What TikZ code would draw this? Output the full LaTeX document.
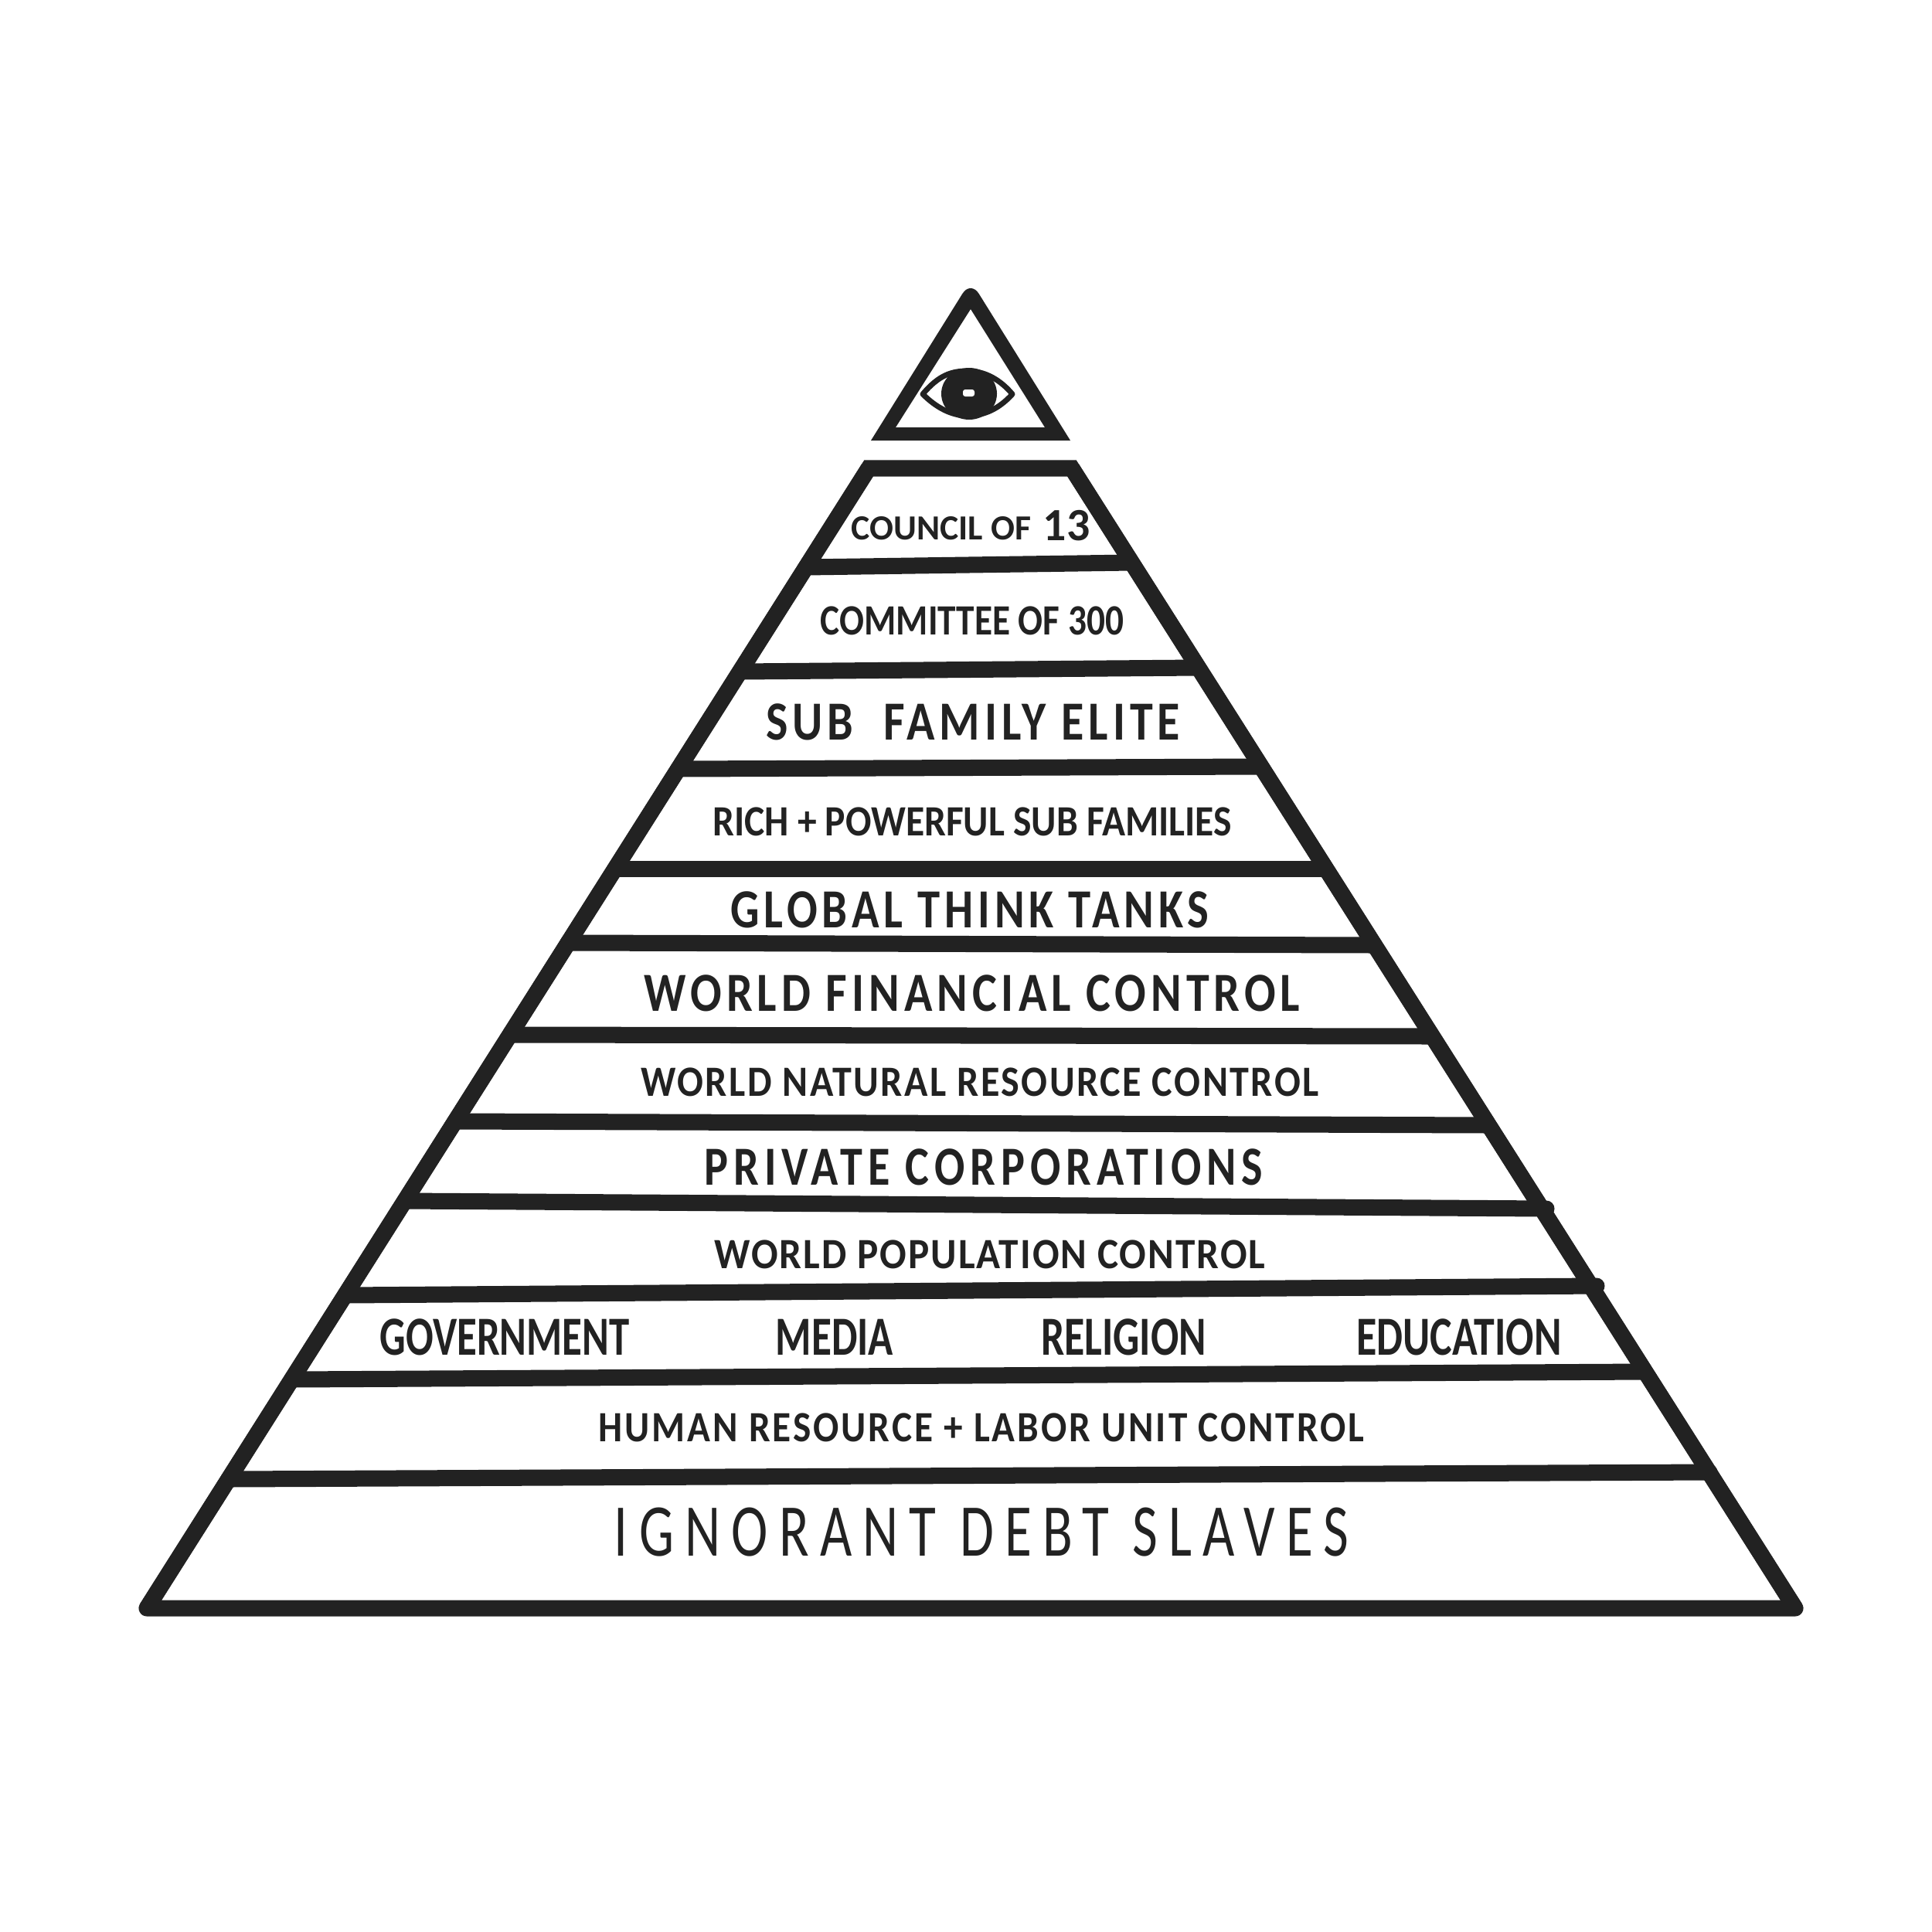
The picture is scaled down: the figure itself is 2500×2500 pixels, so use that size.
\documentclass[tikz,border=0pt]{standalone}
\usepackage{fontspec}
\setmainfont{Carlito}
\definecolor{ink}{HTML}{222222}
\newcommand{\handtext}[3]{\scalebox{#1}[1]{\addfontfeature{LetterSpace=#2}#3}}
\tikzset{
	x=0.01cm, y=-0.01cm,
	wall/.style={ink, line width=0.21cm},
	band/.style={ink, line width=0.21cm, line cap=round},
	tiny label/.style={ink, inner sep=0pt, font=\bfseries\fontsize{13}{14}\selectfont},
	small label/.style={ink, inner sep=0pt, font=\bfseries\fontsize{15.9}{16}\selectfont},
	mid label/.style={ink, inner sep=0pt, font=\bfseries\fontsize{20.3}{21}\selectfont},
	big label/.style={ink, inner sep=0pt, font=\fontsize{27.4}{28}\selectfont},
}

\begin{document}
\begin{tikzpicture}
	\useasboundingbox (0,0) rectangle (2500,2500);

	\coordinate (tl) at (1124,606);
	\coordinate (tr) at (1387,606);
	\coordinate (bl) at (190,2081);
	\coordinate (br) at (2323,2081);

	% capstone with the eye
	\fill [ink, even odd rule] (1127,570) [rounded corners=0.2cm] -- (1256,363) [sharp corners] -- (1385,570) -- cycle
		(1159,553) -- (1256,400) -- (1352,553) -- cycle;
	\draw [ink, line width=0.07cm, line join=round, fill=white]
		(1194,510) .. controls (1215,485) and (1232,480) .. (1252,480)
		.. controls (1275,480) and (1295,492) .. (1310,510)
		.. controls (1292,530) and (1272,538) .. (1252,538)
		.. controls (1232,538) and (1212,528) .. cycle;
	\fill [ink] (1254,509.5) ellipse (36 and 33.5);
	\fill [white, rounded corners=0.03cm] (1246,504) rectangle (1261,513);

	% body of the pyramid
	\draw [wall, line join=miter] (bl) -- (tl) -- (tr) -- (br);
	\draw [wall, line join=round] (tl) -- (bl) -- (br) -- (tr);

	% floors
	\foreach \xl/\yl/\xr/\yr in {1043/734/1464/728, 958/869/1550/864, 878/995/1631/992,
		796/1124/1715/1124, 735/1220/1778/1223, 660/1339/1853/1341, 589/1451/1926/1456,
		524/1554/2001/1564, 447/1676/2066/1664, 378/1785/2128/1775, 296/1914/2212/1905}
		\draw [band] (\xl,\yl) -- (\xr,\yr);

	\node [tiny label] (council) at (1218,684) {COUNCIL OF};
	\node [tiny label, anchor=west] (thirteen) at (1349,680) {\fontsize{17}{18}\selectfont 13};
	\node [small label] (committee) at (1258,803) {\handtext{0.845}{0}{COMMITTEE OF 300}};
	\node [mid label] (elite) at (1259,934) {\handtext{0.841}{10}{SUB\ \ FAMILY ELITE}};
	\node [small label] (rich) at (1258,1063) {\handtext{0.886}{0}{RICH + POWERFUL SUB FAMILIES}};
	\node [mid label] (tanks) at (1255,1177) {\handtext{0.823}{10}{GLOBAL THINK TANKS}};
	\node [mid label] (financial) at (1258,1285) {\handtext{0.842}{10}{WORLD FINANCIAL CONTROL}};
	\node [small label] (natural) at (1268,1400) {\handtext{0.896}{5}{WORLD NATURAL RESOURCE CONTROL}};
	\node [mid label] (private) at (1273,1510) {\handtext{0.815}{12}{PRIVATE CORPORATIONS}};
	\node [small label] (population) at (1281,1623) {\handtext{0.916}{4}{WORLD POPULATION CONTROL}};
	\node [mid label] (government) at (653,1730) {\handtext{0.74}{0}{GOVERNMENT}};
	\node [mid label] (media) at (1080,1730) {\handtext{0.744}{0}{MEDIA}};
	\node [mid label] (religion) at (1454,1730) {\handtext{0.753}{0}{RELIGION}};
	\node [mid label] (education) at (1888,1730) {\handtext{0.755}{0}{EDUCATION}};
	\node [small label] (human) at (1270,1847) {\handtext{0.881}{6}{HUMAN RESOURCE + LABOR UNIT CONTROL}};
	\node [big label] (slaves) at (1270,1983) {\handtext{0.74}{20}{IGNORANT DEBT SLAVES}};
\end{tikzpicture}
\end{document}
